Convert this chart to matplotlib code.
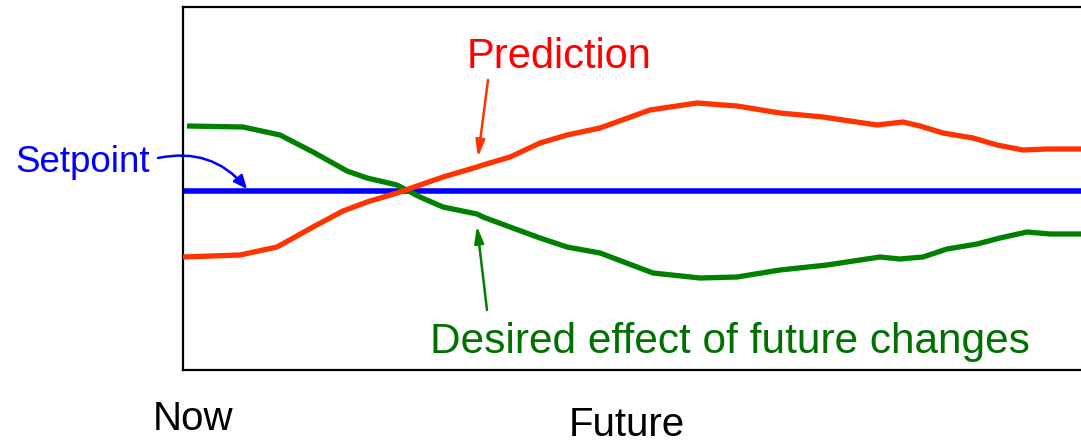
import matplotlib
matplotlib.use("Agg")
import matplotlib.pyplot as plt

plt.rcParams['font.family'] = ['Liberation Sans', 'DejaVu Sans']

# values (x: time position, y: level, screen rows so lower = higher)
setpoint = 191

pred_x = [183, 240, 277, 313, 343, 367, 397, 420, 443, 477, 483, 510, 540, 567, 600,
          650, 697, 737, 780, 823, 877, 903, 920, 943, 973, 997, 1023, 1047, 1090]
pred_y = [257, 255, 247, 227, 211, 202, 193, 185, 177, 167, 165, 157, 143, 135, 128,
          110, 103, 106, 113, 117, 125, 122, 126, 133, 138, 145, 150, 149, 149]

eff_x = [187, 243, 280, 313, 347, 367, 397, 420, 443, 477, 483, 510, 540, 567, 600,
         653, 700, 737, 780, 827, 880, 900, 923, 947, 977, 1000, 1027, 1050, 1090]
eff_y = [126, 127, 135, 152, 171, 178, 185, 197, 207, 214, 217, 227, 238, 247, 253,
         273, 278, 277, 270, 265, 257, 259, 257, 249, 244, 238, 232, 234, 234]

fig = plt.figure(figsize=(10.81, 4.42), dpi=100)
ax = fig.add_axes([183 / 1081, 1 - 370 / 442, (1095 - 183) / 1081, 363 / 442])
ax.set_xlim(183, 1095)
ax.set_ylim(370, 7)
ax.set_xticks([])
ax.set_yticks([])
for s in ax.spines.values():
    s.set_linewidth(1.6)

ax.axhline(setpoint, color='#0000ff', lw=4, zorder=2)
ax.plot(eff_x, eff_y, color='#008000', lw=3.8, solid_capstyle='butt', zorder=3)
ax.plot(pred_x, pred_y, color='#ff3300', lw=3.8, solid_capstyle='butt', zorder=4)

# labels
ax.text(15, 163, 'Setpoint', color='#0000ff', fontsize=26.5, va='center', ha='left')
ax.text(559, 57, 'Prediction', color='#ff0000', fontsize=30, va='center', ha='center')
ax.text(730, 342, 'Desired effect of future changes', color='#007000', fontsize=30.5,
        va='center', ha='center')
ax.text(193, 419, 'Now', color='black', fontsize=29, va='center', ha='center')
ax.text(627, 425, 'Future', color='black', fontsize=29, va='center', ha='center')

# pointers
ax.annotate('', xy=(247, 189), xytext=(158, 158), annotation_clip=False,
            arrowprops=dict(arrowstyle='-|>,head_length=0.8,head_width=0.35',
                            color='#0000ff', lw=1.8,
                            connectionstyle='arc3,rad=-0.3', shrinkA=0, shrinkB=0))
ax.annotate('', xy=(478, 157), xytext=(488, 80),
            arrowprops=dict(arrowstyle='-|>,head_length=1.0,head_width=0.28',
                            color='#ff3300', lw=1.8, shrinkA=0, shrinkB=0))
ax.annotate('', xy=(477, 226), xytext=(487, 310),
            arrowprops=dict(arrowstyle='-|>,head_length=1.0,head_width=0.28',
                            color='#008000', lw=1.8, shrinkA=0, shrinkB=0))

fig.savefig('out.png', dpi=100)
